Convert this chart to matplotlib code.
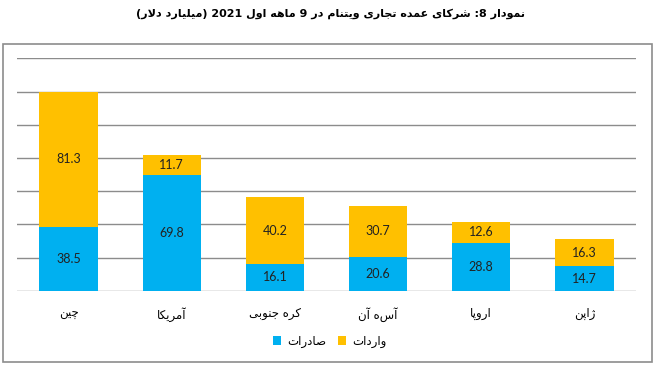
import matplotlib
matplotlib.use('Agg')
import matplotlib.pyplot as plt
from matplotlib.patches import Rectangle

# Data
categories = ['چین', 'آمریکا', 'کره جنوبی', 'آسه آن', 'اروپا', 'ژاپن']
exports = [38.5, 69.8, 16.1, 20.6, 28.8, 14.7]
imports = [81.3, 11.7, 40.2, 30.7, 12.6, 16.3]
series_names = ['صادرات', 'واردات']
title = 'نمودار 8: شرکای عمده تجاری ویتنام در 9 ماهه اول 2021 (میلیارد دلار)'

# Minimal Persian shaping: (isolated, final, initial, medial)
FORMS = {
    'ا': (0xFE8D, 0xFE8E, None, None),
    'آ': (0xFE81, 0xFE82, None, None),
    'ب': (0xFE8F, 0xFE90, 0xFE91, 0xFE92),
    'پ': (0xFB56, 0xFB57, 0xFB58, 0xFB59),
    'ت': (0xFE95, 0xFE96, 0xFE97, 0xFE98),
    'ج': (0xFE9D, 0xFE9E, 0xFE9F, 0xFEA0),
    'چ': (0xFB7A, 0xFB7B, 0xFB7C, 0xFB7D),
    'د': (0xFEA9, 0xFEAA, None, None),
    'ر': (0xFEAD, 0xFEAE, None, None),
    'ژ': (0xFB8A, 0xFB8B, None, None),
    'ش': (0xFEB5, 0xFEB6, 0xFEB7, 0xFEB8),
    'ص': (0xFEB9, 0xFEBA, 0xFEBB, 0xFEBC),
    'ع': (0xFEC9, 0xFECA, 0xFECB, 0xFECC),
    'ک': (0xFB8E, 0xFB8F, 0xFB90, 0xFB91),
    'ل': (0xFEDD, 0xFEDE, 0xFEDF, 0xFEE0),
    'م': (0xFEE1, 0xFEE2, 0xFEE3, 0xFEE4),
    'ن': (0xFEE5, 0xFEE6, 0xFEE7, 0xFEE8),
    'و': (0xFEED, 0xFEEE, None, None),
    'ه': (0xFEE9, 0xFEEA, 0xFEEB, 0xFEEC),
    'ی': (0xFBFC, 0xFBFD, 0xFBFE, 0xFBFF),
}
LAM_ALEF = (0xFEFB, 0xFEFC)


def joins_left(ch):
    return ch in FORMS and FORMS[ch][2] is not None


def shape(text):
    out = []
    i = 0
    n = len(text)
    while i < n:
        ch = text[i]
        if ch not in FORMS:
            out.append(ch)
            i += 1
            continue
        prev = text[i - 1] if i > 0 else ''
        from_right = joins_left(prev)
        if ch == 'ل' and i + 1 < n and text[i + 1] == 'ا':
            out.append(chr(LAM_ALEF[1] if from_right else LAM_ALEF[0]))
            i += 2
            continue
        nxt = text[i + 1] if i + 1 < n else ''
        to_left = joins_left(ch) and nxt in FORMS
        iso, fin, ini, med = FORMS[ch]
        if from_right and to_left:
            out.append(chr(med))
        elif from_right:
            out.append(chr(fin))
        elif to_left:
            out.append(chr(ini))
        else:
            out.append(chr(iso))
        i += 1
    return ''.join(out)


def rtl(text):
    # shape, reverse for display, keep digit runs in order, mirror brackets
    s = shape(text)[::-1]
    mirror = {'(': ')', ')': '('}
    res, run = [], ''
    for ch in s:
        if ch.isdigit() or (run and ch == '.'):
            run += ch
        else:
            if run:
                res.append(run[::-1])
                run = ''
            res.append(mirror.get(ch, ch))
    if run:
        res.append(run[::-1])
    return ''.join(res)


plt.rcParams['font.family'] = ['Lato', 'DejaVu Sans']

blue = '#00B0F0'
gold = '#FFC000'
grid_c = '#8C8C8C'

fig = plt.figure(figsize=(6.57, 3.66), dpi=100)
ax = fig.add_axes([0.0259, 0.2057, 0.942, 0.635])

x = range(len(categories))
width = 0.566
b1 = ax.bar(x, exports, width, color=blue, label=rtl(series_names[0]), zorder=3)
b2 = ax.bar(x, imports, width, bottom=exports, color=gold,
            label=rtl(series_names[1]), zorder=3)

for i in x:
    ax.text(i, exports[i] / 2, f'{exports[i]:.1f}', ha='center', va='center',
            fontsize=9, color='#222222', zorder=4)
    ax.text(i, exports[i] + imports[i] / 2, f'{imports[i]:.1f}', ha='center',
            va='center', fontsize=9, color='#222222', zorder=4)

ax.set_xlim(-0.5, len(categories) - 0.5)
ax.set_ylim(0, 140)
ax.set_yticks(range(0, 141, 20))
ax.yaxis.grid(True, color=grid_c, linewidth=1)
ax.set_yticklabels([])
ax.tick_params(axis='y', length=0)
ax.tick_params(axis='x', length=0, pad=12)
ax.set_xticks(list(x))
ax.set_xticklabels([rtl(c) for c in categories], fontsize=8.5, family='DejaVu Sans')
for sp in ax.spines.values():
    sp.set_visible(False)

fig.text(0.503, 0.962, rtl(title), ha='center', va='center', fontsize=8,
         fontweight='bold', family='DejaVu Sans')

leg = fig.legend(handles=[b1, b2], loc='center', bbox_to_anchor=(0.502, 0.068),
                 ncol=2, frameon=False, handlelength=0.7,
                 handleheight=0.7, handletextpad=0.5, columnspacing=1.0,
                 prop={'family': 'DejaVu Sans', 'size': 8.5})

# outer chart border
fig.patches.append(Rectangle((0.004, 0.011), 0.988, 0.868, transform=fig.transFigure,
                             fill=False, edgecolor=grid_c, linewidth=1.2))

fig.savefig('out.png', dpi=100)
